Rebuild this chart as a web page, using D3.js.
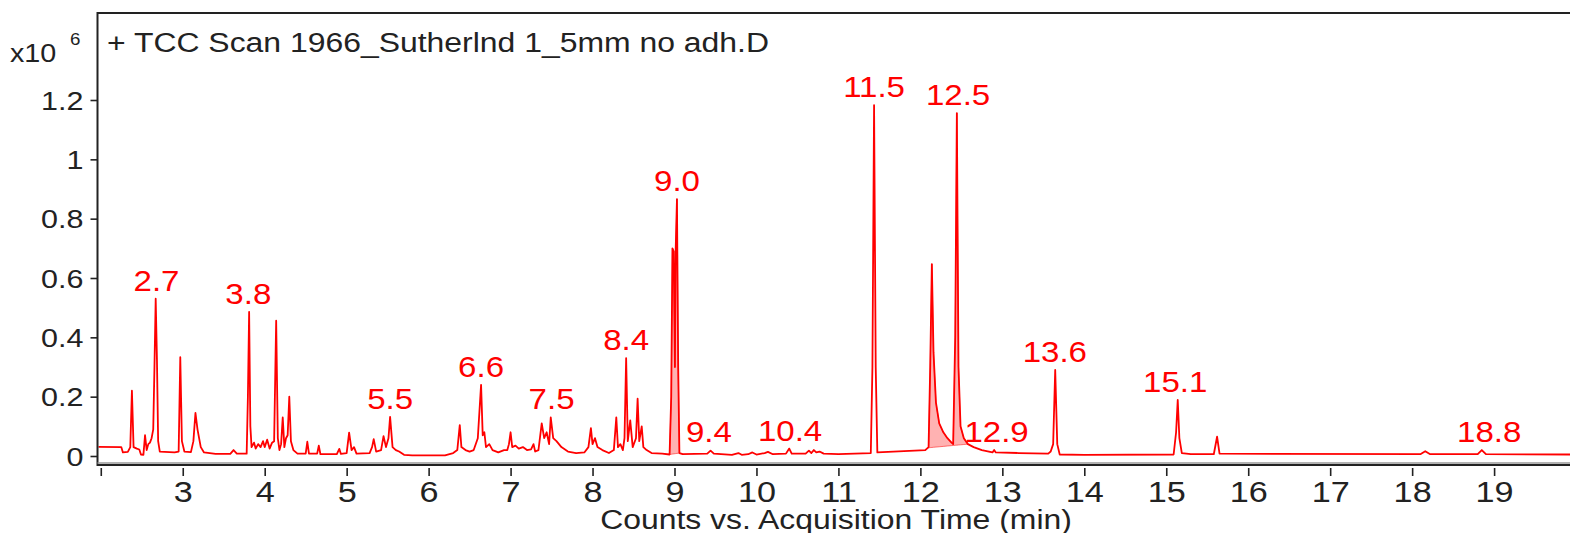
<!DOCTYPE html>
<html>
<head>
<meta charset="utf-8">
<script src="https://cdn.jsdelivr.net/npm/d3@7"></script>
<style>
  html, body { margin: 0; padding: 0; background: #fff; }
  svg { display: block; font-family: "Liberation Sans", Arial, sans-serif; }
</style>
</head>
<body>
<div id="chart"></div>
<script>
// TCC scan, counts in units of 10^6 vs acquisition time (min)
// [time, counts]
var tccScan = [
  [1.96, 0.031], [2.25, 0.030], [2.27, 0.012], [2.33, 0.014], [2.36, 0.03], [2.38, 0.22], [2.40, 0.03],
  [2.44, 0.025], [2.47, 0.022], [2.49, 0.005], [2.52, 0.004], [2.54, 0.07], [2.56, 0.02], [2.58, 0.04],
  [2.60, 0.045], [2.62, 0.06], [2.64, 0.09], [2.655, 0.30], [2.67, 0.53], [2.685, 0.33], [2.70, 0.05],
  [2.72, 0.015], [2.90, 0.012], [2.95, 0.015], [2.97, 0.333], [2.99, 0.05], [3.02, 0.015], [3.10, 0.013],
  [3.13, 0.05], [3.155, 0.145], [3.18, 0.09], [3.22, 0.03], [3.26, 0.012], [3.40, 0.007], [3.58, 0.007],
  [3.62, 0.02], [3.66, 0.008], [3.78, 0.008], [3.795, 0.2], [3.81, 0.486], [3.825, 0.1], [3.84, 0.03],
  [3.87, 0.045], [3.89, 0.025], [3.92, 0.04], [3.95, 0.03], [3.98, 0.05], [4.00, 0.03], [4.03, 0.055],
  [4.06, 0.025], [4.09, 0.045], [4.115, 0.05], [4.14, 0.456], [4.16, 0.06], [4.18, 0.02], [4.20, 0.04],
  [4.22, 0.13], [4.24, 0.03], [4.26, 0.06], [4.28, 0.07], [4.30, 0.20], [4.32, 0.05], [4.35, 0.02],
  [4.40, 0.008], [4.50, 0.008], [4.52, 0.048], [4.54, 0.008], [4.64, 0.008], [4.66, 0.035], [4.68, 0.006],
  [4.88, 0.006], [4.91, 0.024], [4.93, 0.007], [5.00, 0.01], [5.03, 0.079], [5.06, 0.02], [5.09, 0.03],
  [5.12, 0.008], [5.28, 0.01], [5.31, 0.03], [5.33, 0.057], [5.36, 0.015], [5.42, 0.02], [5.45, 0.067],
  [5.48, 0.03], [5.51, 0.06], [5.53, 0.132], [5.56, 0.03], [5.60, 0.02], [5.64, 0.015], [5.70, 0.004],
  [5.80, 0.002], [6.20, 0.002], [6.30, 0.01], [6.35, 0.02], [6.38, 0.104], [6.40, 0.03], [6.45, 0.02],
  [6.50, 0.015], [6.55, 0.02], [6.60, 0.06], [6.64, 0.24], [6.66, 0.07], [6.68, 0.08], [6.70, 0.03],
  [6.74, 0.04], [6.78, 0.02], [6.85, 0.012], [6.92, 0.02], [6.96, 0.02], [6.98, 0.04], [7.00, 0.08],
  [7.02, 0.03], [7.06, 0.035], [7.10, 0.025], [7.15, 0.03], [7.20, 0.02], [7.25, 0.022], [7.28, 0.04],
  [7.30, 0.015], [7.34, 0.02], [7.38, 0.11], [7.41, 0.06], [7.44, 0.08], [7.47, 0.04], [7.49, 0.13],
  [7.52, 0.06], [7.56, 0.05], [7.62, 0.03], [7.70, 0.015], [7.80, 0.01], [7.90, 0.012], [7.95, 0.03],
  [7.98, 0.094], [8.00, 0.04], [8.03, 0.06], [8.06, 0.03], [8.12, 0.02], [8.20, 0.01], [8.26, 0.02],
  [8.29, 0.13], [8.31, 0.03], [8.34, 0.04], [8.37, 0.02], [8.39, 0.06], [8.41, 0.33], [8.43, 0.05],
  [8.46, 0.12], [8.49, 0.03], [8.53, 0.06], [8.55, 0.193], [8.57, 0.05], [8.60, 0.10], [8.62, 0.03],
  [8.66, 0.02], [8.72, 0.01], [8.85, 0.008], [8.94, 0.005], [8.96, 0.20], [8.975, 0.70], [8.99, 0.69],
  [9.005, 0.30], [9.015, 0.70], [9.03, 0.866], [9.045, 0.30], [9.06, 0.01], [9.10, 0.006], [9.40, 0.008],
  [9.44, 0.018], [9.48, 0.008], [9.70, 0.004], [9.78, 0.01], [9.82, 0.004], [9.90, 0.006], [9.95, 0.012],
  [10.00, 0.005], [10.10, 0.01], [10.14, 0.014], [10.20, 0.006], [10.36, 0.008], [10.40, 0.025],
  [10.43, 0.008], [10.60, 0.008], [10.64, 0.018], [10.67, 0.01], [10.70, 0.02], [10.73, 0.012],
  [10.77, 0.015], [10.82, 0.008], [11.00, 0.006], [11.395, 0.01], [11.415, 0.30], [11.435, 1.183],
  [11.455, 0.30], [11.475, 0.012], [12.06, 0.02], [12.10, 0.03], [12.12, 0.30], [12.14, 0.647],
  [12.16, 0.35], [12.19, 0.18], [12.23, 0.11], [12.28, 0.08], [12.33, 0.06], [12.38, 0.045],
  [12.40, 0.04], [12.425, 0.40], [12.445, 1.156], [12.465, 0.30], [12.49, 0.10], [12.53, 0.06],
  [12.58, 0.04], [12.65, 0.03], [12.75, 0.02], [12.88, 0.012], [12.90, 0.02], [12.92, 0.012],
  [13.20, 0.01], [13.56, 0.008], [13.59, 0.015], [13.62, 0.04], [13.645, 0.29], [13.67, 0.04],
  [13.70, 0.005], [14.00, 0.004], [15.09, 0.005], [15.12, 0.08], [15.14, 0.189], [15.16, 0.06],
  [15.19, 0.01], [15.30, 0.006], [15.58, 0.006], [15.62, 0.065], [15.65, 0.008], [18.10, 0.006],
  [18.16, 0.016], [18.22, 0.006], [18.80, 0.006], [18.85, 0.02], [18.90, 0.006], [20.00, 0.005]
];

// integrated peaks (shaded) : [start, end]
var integrations = [[8.94, 9.06], [12.09, 12.58]];

// peak labels : [text, time where the label sits]
var peakLabels = [
  ['2.7', 2.68], ['3.8', 3.80], ['5.5', 5.53], ['6.6', 6.64], ['7.5', 7.50], ['8.4', 8.41],
  ['9.0', 9.03], ['9.4', 9.42], ['10.4', 10.41], ['11.5', 11.435], ['12.5', 12.46], ['12.9', 12.93],
  ['13.6', 13.64], ['15.1', 15.11], ['18.8', 18.94]
];

var xTicks = [2, 3, 4, 5, 6, 7, 8, 9, 10, 11, 12, 13, 14, 15, 16, 17, 18, 19];
var yTicks = [0, 0.2, 0.4, 0.6, 0.8, 1, 1.2];
var yTickLabels = ['0', '0.2', '0.4', '0.6', '0.8', '1', '1.2'];

var W = 1570, H = 533;
// note: "top" is taken by window.top, so use plotTop
var plotLeft = 97.5, plotTop = 13, axisY = 464;

var x = d3.scaleLinear().domain([1.96, 20.0]).range([plotLeft, plotLeft + 18.04 * 81.96]);
var y = d3.scaleLinear().domain([0, 1.2]).range([456, 100]);

var svg = d3.select('#chart').append('svg')
  .attr('width', W)
  .attr('height', H);

svg.append('clipPath').attr('id', 'plotClip')
  .append('rect')
  .attr('x', plotLeft + 1).attr('y', plotTop + 1)
  .attr('width', W - plotLeft).attr('height', axisY - plotTop - 2);

var plot = svg.append('g').attr('clip-path', 'url(#plotClip)');

// shaded integration areas, down to a straight baseline between the end points
function valueAt(t) {
  for (var i = 1; i < tccScan.length; i++) {
    if (tccScan[i][0] >= t) {
      var a = tccScan[i - 1], b = tccScan[i];
      return a[1] + (b[1] - a[1]) * (t - a[0]) / (b[0] - a[0]);
    }
  }
  return tccScan[tccScan.length - 1][1];
}

integrations.forEach(function(r) {
  var b0 = valueAt(r[0]), b1 = valueAt(r[1]);
  var pts = [[r[0], b0]].concat(tccScan.filter(function(d) { return d[0] > r[0] && d[0] < r[1]; }), [[r[1], b1]]);
  var area = d3.area()
    .x(function(d) { return x(d[0]); })
    .y0(function(d) { return y(b0 + (b1 - b0) * (d[0] - r[0]) / (r[1] - r[0])); })
    .y1(function(d) { return y(d[1]); });
  plot.append('path').datum(pts)
    .attr('d', area)
    .attr('fill', '#ff0000')
    .attr('fill-opacity', 0.3)
    .attr('stroke', '#ff0000')
    .attr('stroke-opacity', 0.5)
    .attr('stroke-width', 1);
});

var line = d3.line()
  .x(function(d) { return x(d[0]); })
  .y(function(d) { return y(d[1]); });

plot.append('path').datum(tccScan)
  .attr('d', line)
  .attr('fill', 'none')
  .attr('stroke', '#ff0000')
  .attr('stroke-width', 1.8)
  .attr('stroke-linejoin', 'round');

// peak labels
var stretch = 'scale(1.14,1)';
svg.selectAll('.peakLabel').data(peakLabels).enter().append('text')
  .attr('class', 'peakLabel')
  .attr('transform', function(d) {
    var apex = d3.max(tccScan.filter(function(p) { return Math.abs(p[0] - d[1]) < 0.06; }), function(p) { return p[1]; });
    var ly = Math.min(y(apex) - 8, 442);
    return 'translate(' + x(d[1]) + ',' + ly + ') ' + stretch;
  })
  .attr('text-anchor', 'middle')
  .attr('fill', '#ff0000')
  .attr('font-size', 29)
  .text(function(d) { return d[0]; });

// frame
svg.append('line').attr('x1', plotLeft).attr('x2', W).attr('y1', plotTop).attr('y2', plotTop)
  .attr('stroke', '#222').attr('stroke-width', 2);
svg.append('line').attr('x1', plotLeft).attr('x2', plotLeft).attr('y1', plotTop - 1).attr('y2', axisY + 2)
  .attr('stroke', '#222').attr('stroke-width', 2);
svg.append('line').attr('x1', plotLeft).attr('x2', W).attr('y1', axisY - 1).attr('y2', axisY - 1)
  .attr('stroke', '#999').attr('stroke-width', 1.5);
svg.append('line').attr('x1', plotLeft).attr('x2', W).attr('y1', axisY + 1).attr('y2', axisY + 1)
  .attr('stroke', '#222').attr('stroke-width', 2);

// x axis
var xAxis = svg.append('g')
  .attr('class', 'xAxis')
  .attr('transform', 'translate(0,' + (axisY + 4) + ')')
  .call(d3.axisBottom(x).tickValues(xTicks).tickSize(8).tickSizeOuter(0)
    .tickFormat(function(d) { return d === 2 ? '' : d; }));
xAxis.select('.domain').remove();
xAxis.selectAll('.tick line').attr('stroke', '#222').attr('stroke-width', 1.6);
xAxis.selectAll('.tick text')
  .attr('y', 0).attr('dy', null)
  .attr('transform', 'translate(0,34) ' + stretch)
  .attr('font-size', 30)
  .attr('font-family', '"Liberation Sans", Arial, sans-serif')
  .attr('fill', '#222');

// y axis
var yAxis = svg.append('g')
  .attr('class', 'yAxis')
  .attr('transform', 'translate(' + plotLeft + ',0)')
  .call(d3.axisLeft(y).tickValues(yTicks).tickSize(7).tickSizeOuter(0)
    .tickFormat(function(d, i) { return yTickLabels[i]; }));
yAxis.select('.domain').remove();
yAxis.selectAll('.tick line').attr('stroke', '#222').attr('stroke-width', 1.6);
yAxis.selectAll('.tick text')
  .attr('x', 0).attr('dy', null)
  .attr('transform', 'translate(-14,9) scale(1.22,1)')
  .attr('font-size', 25)
  .attr('font-family', '"Liberation Sans", Arial, sans-serif')
  .attr('fill', '#222');

// exponent
svg.append('text')
  .attr('transform', 'translate(10,62) scale(1.15,1)')
  .attr('font-size', 25).attr('fill', '#222')
  .text('x10');
svg.append('text')
  .attr('transform', 'translate(70,45) scale(1.1,1)')
  .attr('font-size', 17).attr('fill', '#222')
  .text('6');

// scan title
svg.append('text')
  .attr('transform', 'translate(107,52) ' + stretch)
  .attr('font-size', 28).attr('fill', '#222')
  .text('+ TCC Scan 1966_Sutherlnd 1_5mm no adh.D');

// axis title
svg.append('text')
  .attr('transform', 'translate(836,529) ' + stretch)
  .attr('text-anchor', 'middle')
  .attr('font-size', 28).attr('fill', '#222')
  .text('Counts vs. Acquisition Time (min)');
</script>
</body>
</html>
